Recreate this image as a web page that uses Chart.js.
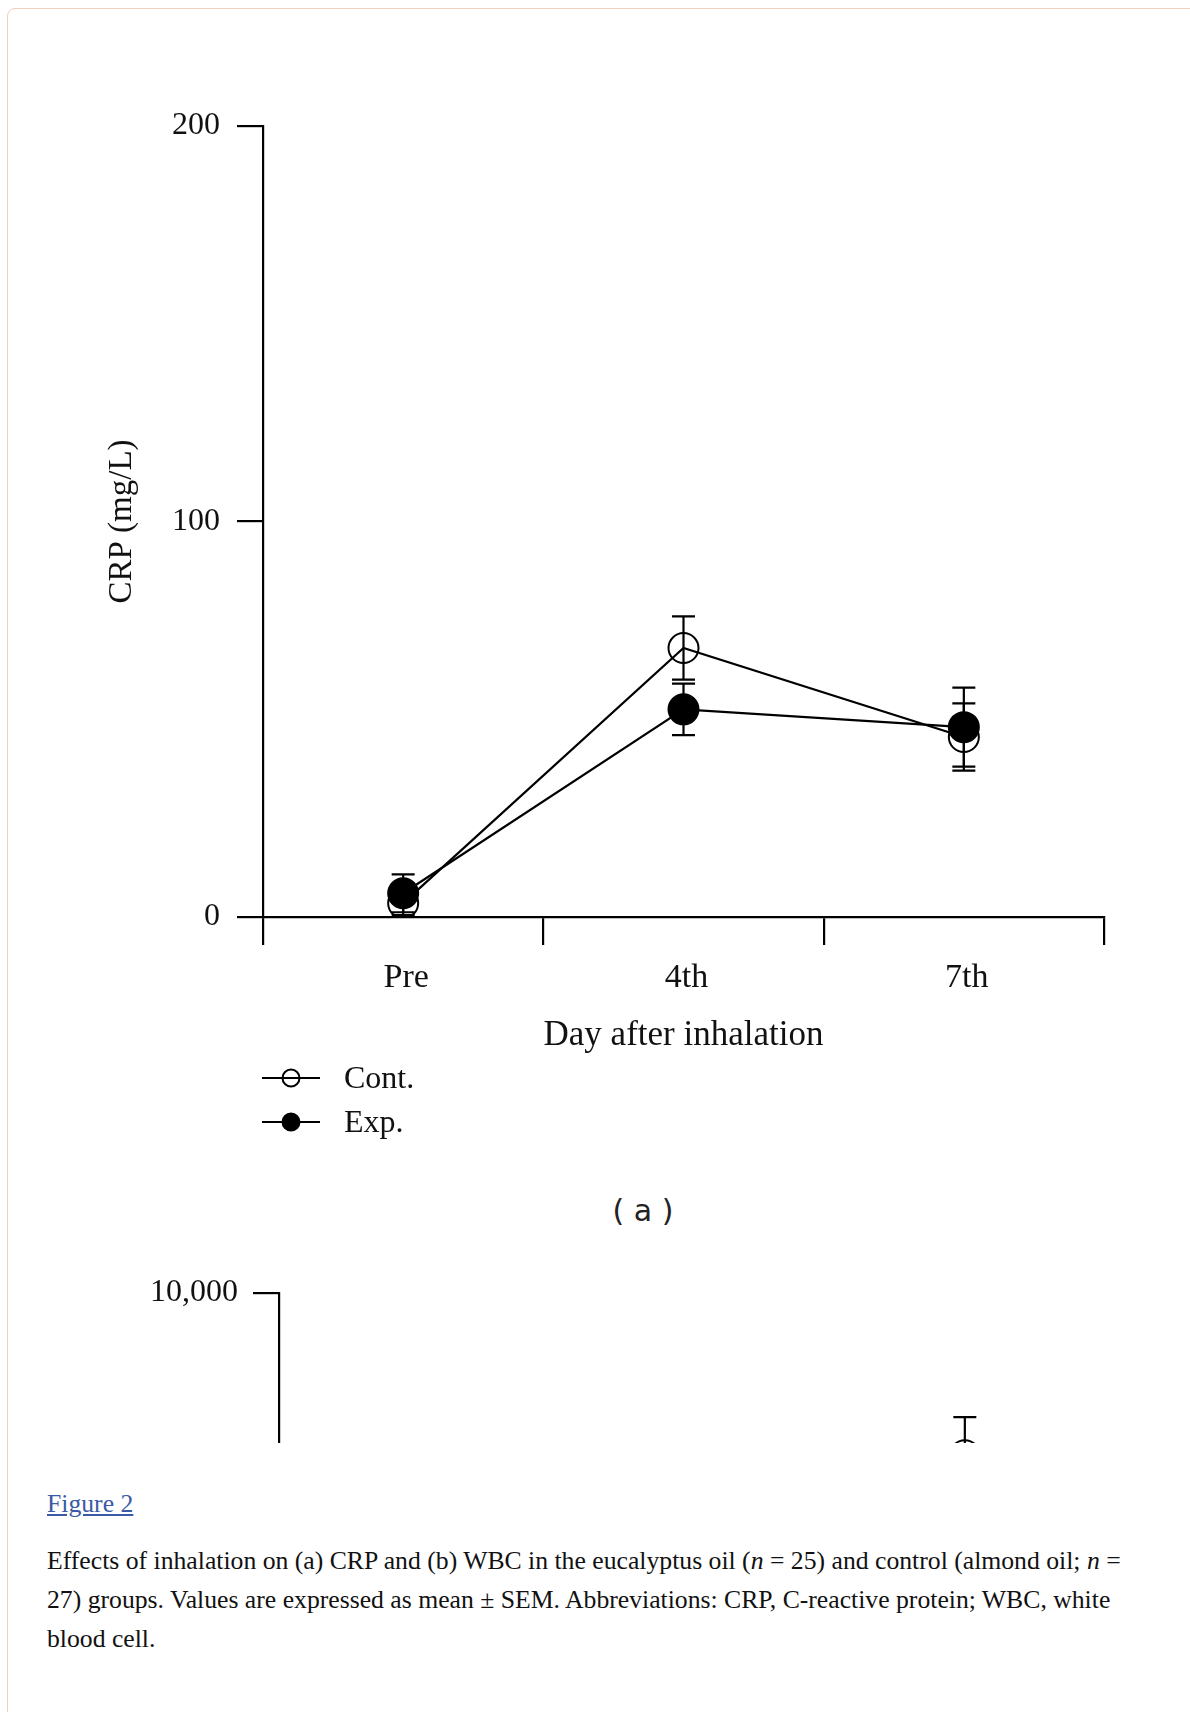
<!doctype html>
<html>
<head>
<title>Figure 2</title>
<script src="https://cdn.jsdelivr.net/npm/chart.js@4.4.1/dist/chart.umd.min.js"></script>
<style>
body { margin: 0; background: #fff; width: 1190px; height: 1712px; overflow: hidden; position: relative; font-family: 'Liberation Serif', 'Times New Roman', serif; color: #111; }
#frame { position: absolute; left: 7px; top: 8px; width: 1250px; height: 1800px; border: 1px solid #f1cfbf; border-radius: 8px; }
#chartA { position: absolute; left: 0; top: 0; }
#clipB { position: absolute; left: 0; top: 1240px; width: 1190px; height: 203px; overflow: hidden; }
#chartB { position: absolute; left: 0; top: 0; }
#panelA { position: absolute; left: 543px; width: 200px; top: 1192px; text-align: center; font: 30px 'DejaVu Sans', sans-serif; line-height: 38px; color: #222; }
#figlink { position: absolute; left: 47px; top: 1489px; font-size: 25.7px; line-height: 30px; color: #3b5aa6; text-decoration: underline; }
#caption { position: absolute; left: 47px; top: 1541px; font-size: 25.7px; line-height: 39px; white-space: nowrap; color: #111; }
</style>
</head>
<body>
<div id="frame"></div>
<canvas id="chartA" width="1190" height="1150"></canvas>
<div id="clipB"><canvas id="chartB" width="1190" height="1000"></canvas></div>
<div id="panelA">( a )</div>
<div id="figlink">Figure 2</div>
<div id="caption">Effects of inhalation on (a) CRP and (b) WBC in the eucalyptus oil (<i>n</i> = 25) and control (almond oil; <i>n</i> =<br>27) groups. Values are expressed as mean ± SEM. Abbreviations: CRP, C-reactive protein; WBC, white<br>blood cell.</div>
<script>
// days
var days = ['Pre', '4th', '7th'];

// CRP (mg/L), mean and SEM
var crpCont = [3.5, 68, 45.5];
var crpContSem = [3, 8, 8.5];
var crpExp = [6, 52.5, 48];
var crpExpSem = [4.8, 6.5, 10];

// WBC, only the part that shows above the fold
var wbcCont = [null, null, 7950];
var wbcContSem = [null, null, 480];

var seriesNames = ['Cont.', 'Exp.'];
var serif = "'Liberation Serif', 'Times New Roman', serif";

Chart.defaults.font.family = serif;
Chart.defaults.color = '#111';

// error bars from the dataset's sem array
var errorBars = {
	id: 'errorBars',
	beforeDatasetsDraw: function(chart) {
		var ctx = chart.ctx;
		var yScale = chart.scales.y;
		chart.data.datasets.forEach(function(ds, i) {
			if (!ds.sem) return;
			var meta = chart.getDatasetMeta(i);
			ctx.save();
			ctx.strokeStyle = '#000';
			ctx.lineWidth = 2.2;
			meta.data.forEach(function(pt, j) {
				var m = ds.data[j], s = ds.sem[j];
				if (m == null || s == null) return;
				var top = yScale.getPixelForValue(m + s);
				var bot = yScale.getPixelForValue(m - s);
				ctx.beginPath();
				ctx.moveTo(pt.x, top); ctx.lineTo(pt.x, bot);
				ctx.moveTo(pt.x - 11.5, top); ctx.lineTo(pt.x + 11.5, top);
				ctx.moveTo(pt.x - 11.5, bot); ctx.lineTo(pt.x + 11.5, bot);
				ctx.stroke();
			});
			ctx.restore();
		});
	}
};

// legend drawn as line + marker, one entry under the other
var lineLegend = {
	id: 'lineLegend',
	afterDraw: function(chart, args, opts) {
		var ctx = chart.ctx;
		chart.data.datasets.forEach(function(ds, i) {
			var yy = opts.y + i * opts.gap;
			ctx.save();
			ctx.strokeStyle = ds.borderColor;
			ctx.lineWidth = 2.2;
			ctx.beginPath();
			ctx.moveTo(opts.x, yy);
			ctx.lineTo(opts.x + opts.len, yy);
			ctx.stroke();
			ctx.beginPath();
			ctx.arc(opts.x + opts.len / 2, yy, opts.r, 0, Math.PI * 2);
			if (ds.pointBackgroundColor !== 'transparent') {
				ctx.fillStyle = ds.pointBackgroundColor;
				ctx.fill();
			}
			ctx.lineWidth = 2;
			ctx.stroke();
			ctx.fillStyle = '#111';
			ctx.font = '32px ' + serif;
			ctx.textBaseline = 'alphabetic';
			ctx.fillText(ds.label, opts.textX, yy + 9.5);
			ctx.restore();
		});
	}
};

function axisX(tickLen, pad, titleText) {
	return {
		type: 'category',
		offset: true,
		grid: { offset: true, drawOnChartArea: false, drawTicks: true, tickLength: tickLen, color: '#000', lineWidth: 2.2 },
		border: { display: true, color: '#000', width: 2.2 },
		ticks: { padding: pad, labelOffset: 3, font: { size: 34 }, color: '#111' },
		title: { display: !!titleText, text: titleText, font: { size: 35 }, padding: 0, color: '#111' }
	};
}

var ctxA = document.getElementById('chartA').getContext('2d');
var xA = axisX(28, 13, 'Day after inhalation');
xA.afterFit = function(s) { s.height = 140; };
new Chart(ctxA, {
	type: 'line',
	data: {
		labels: days,
		datasets: [{
			label: seriesNames[0],
			data: crpCont,
			sem: crpContSem,
			order: 1,
			borderColor: '#000',
			borderWidth: 2.2,
			pointRadius: 15,
			pointBorderWidth: 2,
			pointBackgroundColor: 'transparent',
			pointBorderColor: '#000',
			tension: 0,
			fill: false
		}, {
			label: seriesNames[1],
			data: crpExp,
			sem: crpExpSem,
			order: 0,
			borderColor: '#000',
			borderWidth: 2.2,
			pointRadius: 15,
			pointBorderWidth: 2,
			pointBackgroundColor: '#000',
			pointBorderColor: '#000',
			tension: 0,
			fill: false
		}]
	},
	options: {
		responsive: false,
		animation: false,
		devicePixelRatio: 1,
		layout: { padding: { left: 103, right: 86, top: 126, bottom: 93 } },
		plugins: {
			legend: { display: false },
			tooltip: { enabled: false },
			lineLegend: { x: 262, len: 58, r: 8.5, y: 1078, gap: 44, textX: 344 }
		},
		scales: {
			x: xA,
			y: {
				min: 0,
				max: 200,
				afterFit: function(s) { s.width = 160; },
				grid: { drawOnChartArea: false, drawTicks: true, tickLength: 26, color: '#000', lineWidth: 2.2 },
				border: { display: true, color: '#000', width: 2.2 },
				ticks: { stepSize: 100, padding: 17, font: { size: 32 }, color: '#111' },
				title: { display: true, text: 'CRP (mg/L)', font: { size: 33 }, padding: 0, color: '#111' }
			}
		}
	},
	plugins: [errorBars, lineLegend]
});

var ctxB = document.getElementById('chartB').getContext('2d');
var xB = axisX(28, 13, '');
xB.afterFit = function(s) { s.height = 100; };
new Chart(ctxB, {
	type: 'line',
	data: {
		labels: days,
		datasets: [{
			label: seriesNames[0],
			data: wbcCont,
			sem: wbcContSem,
			borderColor: '#000',
			borderWidth: 2.2,
			pointRadius: 15,
			pointBorderWidth: 2,
			pointBackgroundColor: 'transparent',
			pointBorderColor: '#000',
			tension: 0,
			fill: false
		}]
	},
	options: {
		responsive: false,
		animation: false,
		devicePixelRatio: 1,
		layout: { padding: { left: 0, right: 88, top: 53, bottom: 56 } },
		plugins: { legend: { display: false }, tooltip: { enabled: false } },
		scales: {
			x: xB,
			y: {
				min: 0,
				max: 10000,
				afterFit: function(s) { s.width = 279; },
				grid: { drawOnChartArea: false, drawTicks: true, tickLength: 26, color: '#000', lineWidth: 2.2 },
				border: { display: true, color: '#000', width: 2.2 },
				ticks: {
					stepSize: 5000, padding: 15, font: { size: 32 }, color: '#111',
					callback: function(v) { return v.toLocaleString('en-US'); }
				},
				title: { display: false }
			}
		}
	},
	plugins: [errorBars]
});
</script>
</body>
</html>
